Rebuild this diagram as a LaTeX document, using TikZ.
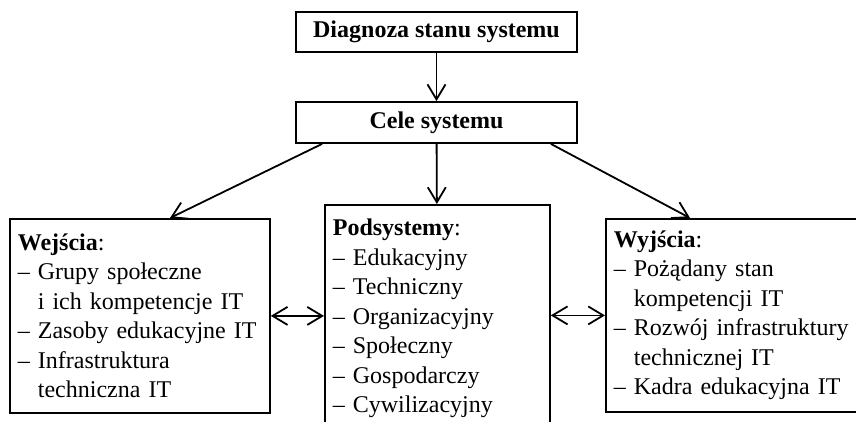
\documentclass[tikz,border=0pt]{standalone}
\usepackage{fontspec}
\setmainfont{Liberation Serif}
\usetikzlibrary{arrows.meta}

\newcommand{\itm}{--~}
\newcommand{\ind}{\hphantom{--~}}

\begin{document}
\begin{tikzpicture}[x=1bp,y=-1bp,
    every node/.style={font=\fontsize{24bp}{29.5bp}\selectfont},
    box/.style={draw,line width=1.8bp,inner sep=0pt},
    listbox/.style={draw,line width=1.8bp,anchor=north west,align=left,inner xsep=8bp},
    arr/.style={line width=1.8bp,-{Straight Barb[length=15bp,width=18bp,line width=1.8bp]}},
    dblarr/.style={line width=1.8bp,{Straight Barb[length=15bp,width=18bp,line width=1.8bp]}-{Straight Barb[length=15bp,width=18bp,line width=1.8bp]}}]
    \clip (0,0) rectangle (856,421);
    % gorne bloki
    \node[box,minimum width=281bp,minimum height=40bp] (diag) at (436.5,32) {\textbf{Diagnoza stanu systemu}};
    \node[box,minimum width=281bp,minimum height=41bp] (cele) at (436.5,122.5) {\textbf{Cele systemu}};
    % dolne bloki
    \node[listbox,text width=244bp,minimum height=194bp,inner ysep=11bp] (wej) at (9,218) {\textbf{Wejścia}:\\
        \itm Grupy społeczne\\
        \ind i ich kompetencje IT\\
        \itm Zasoby edukacyjne IT\\
        \itm Infrastruktura\\
        \ind techniczna IT};
    \node[listbox,text width=209bp,inner ysep=14bp] (pod) at (324,204) {\textbf{Podsystemy}:\\
        \itm Edukacyjny\\
        \itm Techniczny\\
        \itm Organizacyjny\\
        \itm Społeczny\\
        \itm Gospodarczy\\
        \itm Cywilizacyjny};
    \node[listbox,text width=244bp,minimum height=193bp,inner ysep=11bp] (wyj) at (605,218) {\textbf{Wyjścia}:\\
        \itm Pożądany stan\\
        \ind kompetencji IT\\
        \itm Rozwój infrastruktury\\
        \ind technicznej IT\\
        \itm Kadra edukacyjna IT};
    % strzalki
    \draw[arr] (diag) -- (cele);
    \draw[arr] (cele) -- (pod);
    \draw[arr] ([xshift=27bp]cele.south west) -- ([xshift=161bp]wej.north west);
    \draw[arr] ([xshift=-27bp]cele.south east) -- ([xshift=85bp]wyj.north west);
    \draw[dblarr] (wej.east) -- (wej.east -| pod.west);
    \draw[dblarr] (pod.east |- wyj.west) -- (wyj.west);
\end{tikzpicture}
\end{document}
